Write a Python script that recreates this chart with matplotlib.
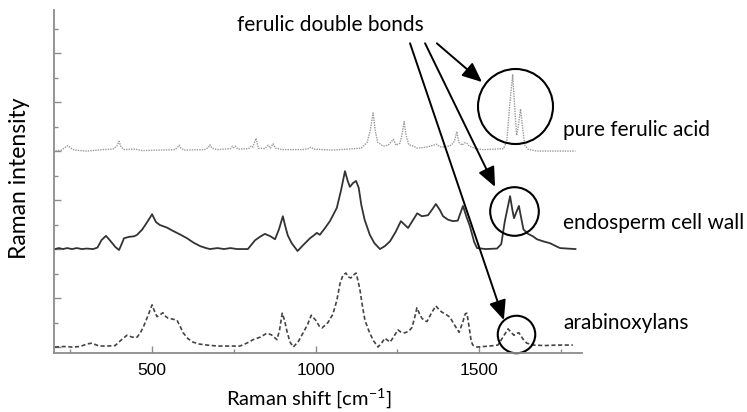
import matplotlib
matplotlib.use('Agg')
import matplotlib.pyplot as plt
from matplotlib.ticker import MultipleLocator

# Raman spectra, wavenumbers in cm-1 and intensity above each trace's own baseline
ferulic_wn = [205, 222, 235, 243, 252, 262, 300, 350, 380, 392, 399, 405, 415, 448, 470, 520,
              570, 578, 583, 589, 600, 660, 672, 677, 683, 700, 740, 746, 750, 755, 762, 795,
              803, 808, 818, 825, 845, 855, 862, 870, 877, 900, 960, 978, 986, 994, 1050, 1100,
              1140, 1158, 1168, 1176, 1183, 1190, 1207, 1222, 1238, 1246, 1258, 1264, 1271, 1277,
              1285, 1300, 1310, 1340, 1370, 1380, 1395, 1415, 1425, 1432, 1438, 1448, 1456, 1463,
              1470, 1490, 1512, 1550, 1575, 1585, 1594, 1603, 1609, 1615, 1620, 1627, 1633, 1640,
              1650, 1677, 1720, 1795]
ferulic_int = [0.0, 0.02, 0.08, 0.11, 0.06, 0.02, 0.0, 0.03, 0.04, 0.1, 0.2, 0.08, 0.03, 0.04,
               0.01, 0.02, 0.03, 0.08, 0.12, 0.05, 0.02, 0.03, 0.07, 0.13, 0.06, 0.03, 0.05, 0.1,
               0.07, 0.1, 0.04, 0.05, 0.1, 0.08, 0.26, 0.06, 0.05, 0.12, 0.06, 0.15, 0.06, 0.03,
               0.03, 0.05, 0.08, 0.04, 0.02, 0.04, 0.06, 0.18, 0.45, 0.78, 0.4, 0.18, 0.1, 0.12,
               0.24, 0.12, 0.16, 0.32, 0.6, 0.32, 0.13, 0.1, 0.06, 0.08, 0.14, 0.09, 0.08, 0.12,
               0.2, 0.4, 0.18, 0.12, 0.17, 0.16, 0.1, 0.05, 0.03, 0.04, 0.05, 0.2, 0.95, 1.56,
               0.9, 0.32, 0.5, 0.86, 0.5, 0.12, 0.04, 0.0, 0.0, 0.0]

endosperm_wn = [203, 215, 228, 240, 255, 270, 285, 300, 320, 333, 345, 359, 372, 388, 399, 408,
                414, 430, 445, 454, 470, 485, 500, 512, 524, 545, 564, 585, 607, 627, 647, 665,
                677, 700, 720, 740, 760, 793, 815, 830, 845, 862, 876, 888, 900, 908, 915, 927,
                945, 962, 983, 995, 1004, 1013, 1028, 1044, 1065, 1078, 1090, 1098, 1105, 1115,
                1124, 1132, 1140, 1150, 1166, 1180, 1197, 1212, 1228, 1245, 1261, 1272, 1283,
                1297, 1311, 1325, 1344, 1358, 1368, 1380, 1390, 1405, 1420, 1435, 1451, 1462,
                1472, 1485, 1494, 1520, 1555, 1568, 1579, 1595, 1602, 1607, 1614, 1622, 1630,
                1636, 1650, 1665, 1677, 1700, 1717, 1735, 1748, 1770, 1795]
endosperm_int = [0.0, 0.02, 0.0, 0.02, 0.0, 0.02, 0.0, 0.01, 0.0, 0.03, 0.18, 0.27, 0.17, 0.04,
                 -0.02, 0.12, 0.22, 0.25, 0.26, 0.29, 0.4, 0.55, 0.71, 0.55, 0.49, 0.44, 0.37,
                 0.3, 0.22, 0.13, 0.06, 0.02, 0.0, 0.02, 0.0, 0.02, 0.0, 0.0, 0.18, 0.25, 0.31,
                 0.26, 0.2, 0.4, 0.67, 0.45, 0.28, 0.12, -0.04, 0.08, 0.22, 0.28, 0.33, 0.29,
                 0.42, 0.57, 0.84, 1.2, 1.59, 1.4, 1.27, 1.35, 1.39, 1.25, 0.9, 0.6, 0.29, 0.12,
                 0.0, 0.06, 0.16, 0.35, 0.57, 0.5, 0.43, 0.58, 0.73, 0.67, 0.69, 0.82, 0.92, 0.8,
                 0.67, 0.6, 0.57, 0.58, 0.88, 0.65, 0.47, 0.15, 0.02, 0.0, 0.01, 0.1, 0.57, 1.08,
                 0.8, 0.63, 0.75, 0.88, 0.6, 0.4, 0.31, 0.26, 0.2, 0.15, 0.12, 0.06, 0.02, 0.01,
                 0.0]

arabino_wn = [203, 230, 255, 280, 300, 316, 330, 341, 365, 387, 405, 423, 440, 454, 465, 474,
              488, 500, 508, 515, 525, 533, 542, 549, 562, 576, 586, 595, 610, 625, 645, 668,
              700, 740, 769, 790, 809, 830, 851, 865, 882, 890, 898, 905, 913, 922, 932, 948,
              962, 975, 987, 1000, 1012, 1020, 1038, 1053, 1065, 1075, 1084, 1093, 1100, 1108,
              1116, 1124, 1130, 1136, 1143, 1151, 1163, 1176, 1191, 1202, 1212, 1220, 1228,
              1240, 1252, 1262, 1273, 1285, 1295, 1305, 1310, 1318, 1325, 1333, 1341, 1355,
              1368, 1378, 1387, 1400, 1411, 1425, 1439, 1450, 1458, 1463, 1470, 1476, 1481,
              1494, 1533, 1558, 1573, 1589, 1598, 1607, 1614, 1622, 1635, 1646, 1665, 1700,
              1740, 1787]
arabino_int = [0.0, 0.01, 0.0, 0.01, 0.06, 0.08, 0.04, 0.02, 0.02, 0.03, 0.14, 0.24, 0.2, 0.2,
               0.3, 0.42, 0.65, 0.86, 0.72, 0.62, 0.66, 0.7, 0.62, 0.59, 0.57, 0.55, 0.42, 0.29,
               0.17, 0.1, 0.06, 0.04, 0.02, 0.02, 0.02, 0.08, 0.15, 0.2, 0.28, 0.25, 0.15, 0.35,
               0.69, 0.55, 0.31, 0.1, 0.0, 0.12, 0.29, 0.45, 0.65, 0.55, 0.42, 0.39, 0.5, 0.67,
               0.95, 1.3, 1.47, 1.51, 1.43, 1.41, 1.47, 1.51, 1.35, 1.16, 0.85, 0.55, 0.33, 0.14,
               0.0, 0.08, 0.18, 0.14, 0.1, 0.22, 0.35, 0.3, 0.29, 0.32, 0.4, 0.65, 0.8, 0.68,
               0.59, 0.54, 0.52, 0.7, 0.84, 0.76, 0.71, 0.66, 0.61, 0.45, 0.3, 0.5, 0.68, 0.69,
               0.4, 0.12, 0.04, 0.0, 0.02, 0.04, 0.2, 0.37, 0.3, 0.24, 0.28, 0.29, 0.16, 0.08,
               0.04, 0.03, 0.04, 0.04]

names = ['pure ferulic acid', 'endosperm cell wall', 'arabinoxylans']
offsets = [4, 2, 0]
# where the C=C band sits in each trace, circled on the plot
band_wn = [1610, 1607, 1613]
band_y = [4.92, 2.78, 0.27]

W, H = 747, 412
fig = plt.figure(figsize=(W / 100, H / 100), dpi=100)
ax = fig.add_axes([54 / W, 1 - 353 / H, 528 / W, 343 / H])

ax.plot(ferulic_wn, [v + offsets[0] for v in ferulic_int], color='#9a9a9a', lw=1.0,
        ls=(0, (1, 0.8)))
ax.plot(endosperm_wn, [v + offsets[1] for v in endosperm_int], color='#333333', lw=1.3)
ax.plot(arabino_wn, [v + offsets[2] for v in arabino_int], color='#444444', lw=1.2,
        ls=(0, (2.5, 1.5)))

ax.set_xlim(200, 1815)
ax.set_ylim(-0.122, 6.88)

for s in ['top', 'right']:
    ax.spines[s].set_visible(False)
for s in ['left', 'bottom']:
    ax.spines[s].set_color('#8c8c8c')
    ax.spines[s].set_linewidth(1.3)

ax.xaxis.set_major_locator(MultipleLocator(500))
ax.xaxis.set_minor_locator(MultipleLocator(250))
ax.yaxis.set_major_locator(MultipleLocator(1))
ax.yaxis.set_minor_locator(MultipleLocator(0.5))
ax.tick_params(which='both', direction='in', color='#8c8c8c', width=1)
ax.tick_params(which='major', length=5)
ax.tick_params(which='minor', length=3)
ax.tick_params(axis='y', labelleft=False)
ax.tick_params(axis='x', labelsize=12.5, pad=7)
for lab in ax.get_xticklabels():
    lab.set_family('Liberation Sans')

label_font = ['Lato', 'DejaVu Sans']

# circles around the double-bond band
sizes = [54, 35, 27]
for wn, y, ms in zip(band_wn, band_y, sizes):
    ax.plot([wn], [y], 'o', ms=ms, mfc='none', mec='black', mew=1.5, clip_on=False)

# arrows from the caption down to the circles
starts = [(1371, 6.2), (1335, 6.2), (1289, 6.2)]
tips = [(1509, 5.41), (1549, 3.27), (1576, 0.55)]
for (x0, y0), (x1, y1) in zip(starts, tips):
    ax.annotate('', xy=(x1, y1), xytext=(x0, y0),
                arrowprops=dict(arrowstyle='-|>,head_length=0.8,head_width=0.35',
                                mutation_scale=15, color='black', lw=1.4,
                                shrinkA=0, shrinkB=0),
                annotation_clip=False)

def px(x, y):
    return x / W, 1 - y / H

fig.text(*px(330, 25), 'ferulic double bonds', family=label_font, fontsize=15,
         ha='center', va='center')
label_y = [130, 223, 323]
for name, y in zip(names, label_y):
    fig.text(*px(563, y), name, family=label_font, fontsize=15, ha='left', va='center')

fig.text(*px(20, 178), 'Raman intensity', family=label_font, fontsize=16.5,
         rotation=90, ha='center', va='center')
fig.text(*px(309, 399), r'Raman shift [cm$^{\mathregular{-1}}$]', family=label_font,
         fontsize=14.5, ha='center', va='center')

fig.savefig('out.png', dpi=100)
